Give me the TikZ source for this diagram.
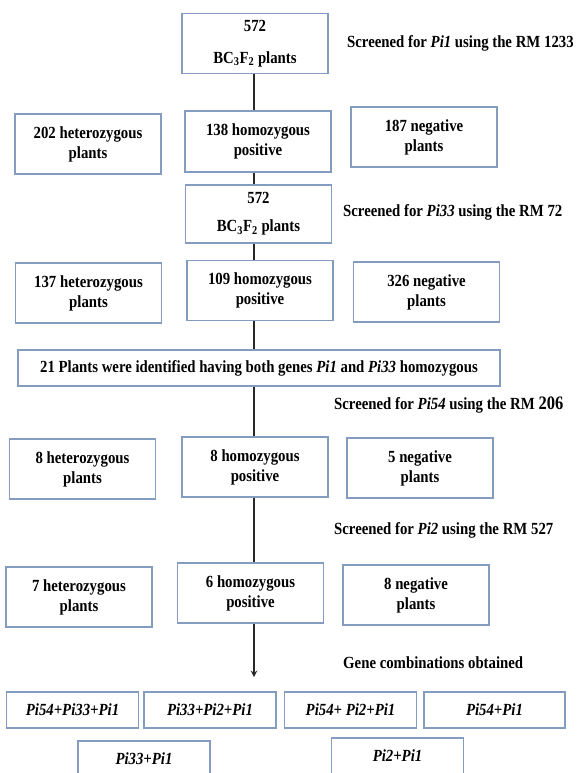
\documentclass[tikz,border=0pt]{standalone}
\usepackage{fontspec}
\setmainfont{Liberation Serif}[FakeStretch=0.87]
\usepackage{tikz}
\usetikzlibrary{arrows,positioning}
\definecolor{boxblue}{RGB}{132,156,192}
\definecolor{linegray}{RGB}{40,40,40}

\begin{document}
\begin{tikzpicture}[
    x=1pt, y=-1pt,
    every node/.style={font=\fontsize{17}{20}\selectfont\bfseries},
    box/.style={rectangle, draw=boxblue, line width=1.3pt, fill=white, text centered, align=center, minimum width=146pt, minimum height=60pt, inner sep=2pt},
    combo/.style={box, minimum width=132pt, minimum height=36pt, font=\fontsize{17}{20}\selectfont\bfseries\itshape},
    note/.style={anchor=west, inner sep=0pt},
    conn/.style={draw=linegray, line width=1.8pt},
    arrow/.style={conn, ->, >=stealth}
]
\useasboundingbox (0,0) rectangle (579,773);
\clip (0,0) rectangle (579,773);

% first screening
\node[box] (bc1) at (255,43.5) {572\\[12pt]BC\textsubscript{3}F\textsubscript{2} plants};
\node[note] (scr1) at (347,43) {Screened for \textit{Pi1} using the RM 1233};
\node[box] (het1) at (88,144) {202 heterozygous\\plants};
\node[box, minimum height=61pt] (hom1) at (258,141.5) {138 homozygous\\positive};
\node[box] (neg1) at (424,137) {187 negative\\plants};

% second screening
\node[box, minimum height=58pt] (bc2) at (258.5,214) {572\\[8pt]BC\textsubscript{3}F\textsubscript{2} plants};
\node[note] (scr2) at (343,212) {Screened for \textit{Pi33} using the RM 72};
\node[box] (het2) at (88.5,293) {137 heterozygous\\plants};
\node[box] (hom2) at (260,290.5) {109 homozygous\\positive};
\node[box] (neg2) at (426.5,292) {326 negative\\plants};

\node[box, minimum width=482pt, minimum height=36pt] (both) at (259,368) {21 Plants were identified having both genes \textit{Pi1} and \textit{Pi33} homozygous};

% third screening
\node[note] (scr3) at (334,405) {Screened for \textit{Pi54} using the RM {\fontsize{19}{20}\selectfont 206}};
\node[box] (het3) at (82.5,469) {8 heterozygous\\plants};
\node[box] (hom3) at (255,467) {8 homozygous\\positive};
\node[box] (neg3) at (420,468) {5 negative\\plants};

% fourth screening
\node[note] (scr4) at (334,530) {Screened for \textit{Pi2} using the RM 527};
\node[box] (het4) at (79,597) {7 heterozygous\\plants};
\node[box] (hom4) at (250.5,593) {6 homozygous\\positive};
\node[box] (neg4) at (416,595) {8 negative\\plants};

% combinations
\node[note] (gene) at (343,663) {Gene combinations obtained};
\node[combo] (c1) at (72.5,710) {Pi54+Pi33+Pi1};
\node[combo] (c2) at (210,710) {Pi33+Pi2+Pi1};
\node[combo] (c3) at (350.5,710) {Pi54+ Pi2+Pi1};
\node[combo, minimum width=141pt] (c4) at (494.5,710) {Pi54+Pi1};
\node[combo] (c5) at (144,759) {Pi33+Pi1};
\node[combo] (c6) at (397.5,756) {Pi2+Pi1};

\coordinate (spine) at (254,0);
\coordinate (tip) at (254,677);

\draw[conn] (spine |- bc1.south) -- (spine |- hom1.north);
\draw[conn] (spine |- hom1.south) -- (spine |- bc2.north);
\draw[conn] (spine |- bc2.south) -- (spine |- hom2.north);
\draw[conn] (spine |- hom2.south) -- (spine |- both.north);
\draw[conn] (spine |- both.south) -- (spine |- hom3.north);
\draw[conn] (spine |- hom3.south) -- (spine |- hom4.north);
\draw[arrow] (spine |- hom4.south) -- (tip);

\end{tikzpicture}
\end{document}
